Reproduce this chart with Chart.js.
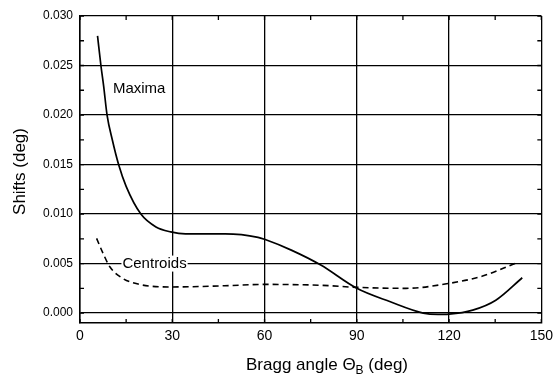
<!DOCTYPE html>
<html>
<head>
<meta charset="utf-8">
<script src="https://cdn.jsdelivr.net/npm/chart.js@4"></script>
<style>
  html, body { margin: 0; padding: 0; background: #fff; }
  #wrap { width: 558px; height: 381px; }
</style>
</head>
<body>
<div id="wrap"><canvas id="chart" width="558" height="381"></canvas></div>
<script>
// values
const maximaAngle = [5.7, 6.8, 7.7, 8.8, 10.5, 12.55, 15.0, 19.8, 24.7, 29.5, 34.3, 47.2, 57.9, 60, 68.7, 78.3, 90, 100.9, 111.6, 116.4, 120, 127.7, 135.2, 143.8];
const maximaShift = [0.0280, 0.0250, 0.0229, 0.0200, 0.0175, 0.0150, 0.0128, 0.0100, 0.0087, 0.0082, 0.0080, 0.0080, 0.00765, 0.00745, 0.00636, 0.00485, 0.0025, 0.00114, 0.0000, -0.00013, -0.0001, 0.0003, 0.0013, 0.00357];

const centroidAngle = [5.4, 7.5, 9.7, 13.9, 19.3, 25.7, 30, 47, 60, 79, 90, 106, 120, 130.9, 141.6];
const centroidShift = [0.00754, 0.00603, 0.00468, 0.0035, 0.0029, 0.00266, 0.00264, 0.00276, 0.0029, 0.0028, 0.0026, 0.0025, 0.0030, 0.00374, 0.00502];

const xTicks = [0, 30, 60, 90, 120, 150];
const yTicks = [0.000, 0.005, 0.010, 0.015, 0.020, 0.025, 0.030];

const FONT = '"Liberation Sans", Arial, sans-serif';

function toPoints(xs, ys) {
    return xs.map((x, i) => ({ x: x, y: ys[i] }));
}

// inside ticks (major + minor) on all four sides, labels and axis titles
const decorPlugin = {
    id: 'decor',
    afterDraw(chart) {
        const ctx = chart.ctx;
        const xs = chart.scales.x;
        const ys = chart.scales.y;
        const a = chart.chartArea;
        ctx.save();
        ctx.strokeStyle = '#000';
        ctx.lineWidth = 1.3;
        ctx.beginPath();
        for (let v = 0; v <= 150; v += 15) {
            const px = xs.getPixelForValue(v);
            ctx.moveTo(px, a.bottom);
            ctx.lineTo(px, a.bottom - 4);
            ctx.moveTo(px, a.top);
            ctx.lineTo(px, a.top + 4);
        }
        for (let v = 0; v <= 0.030001; v += 0.0025) {
            const py = ys.getPixelForValue(v);
            ctx.moveTo(a.left, py);
            ctx.lineTo(a.left + 4, py);
            ctx.moveTo(a.right, py);
            ctx.lineTo(a.right - 4, py);
        }
        ctx.stroke();

        // curve labels
        ctx.font = '15px ' + FONT;
        ctx.fillStyle = '#000';
        ctx.textBaseline = 'middle';
        ctx.textAlign = 'left';
        ctx.fillText('Maxima', xs.getPixelForValue(10.7), ys.getPixelForValue(0.0226));
        const cx = xs.getPixelForValue(13.8);
        const cy = ys.getPixelForValue(0.0050);
        const w = ctx.measureText('Centroids').width;
        ctx.fillStyle = '#fff';
        ctx.fillRect(cx - 1, cy - 8, w + 2, 16);
        ctx.fillStyle = '#000';
        ctx.fillText('Centroids', cx, cy);

        // y title
        ctx.font = '17px ' + FONT;
        ctx.save();
        ctx.translate(20, (a.top + a.bottom) / 2 + 2);
        ctx.rotate(-Math.PI / 2);
        ctx.textAlign = 'center';
        ctx.fillText('Shifts (deg)', 0, 0);
        ctx.restore();

        // x title with subscript
        const part1 = 'Bragg angle \u0398';
        const part2 = 'B';
        const part3 = ' (deg)';
        ctx.font = '17px ' + FONT;
        const w1 = ctx.measureText(part1).width;
        const w3 = ctx.measureText(part3).width;
        ctx.font = '12px ' + FONT;
        const w2 = ctx.measureText(part2).width;
        let tx = 327 - (w1 + w2 + w3) / 2;
        const ty = 365;
        ctx.textAlign = 'left';
        ctx.font = '17px ' + FONT;
        ctx.fillText(part1, tx, ty);
        tx += w1;
        ctx.font = '12px ' + FONT;
        ctx.fillText(part2, tx, ty + 6);
        tx += w2;
        ctx.font = '17px ' + FONT;
        ctx.fillText(part3, tx, ty);
        ctx.restore();
    }
};

const ctx = document.getElementById('chart').getContext('2d');
new Chart(ctx, {
    type: 'line',
    data: {
        datasets: [
            {
                label: 'Maxima',
                data: toPoints(maximaAngle, maximaShift),
                borderColor: '#000',
                borderWidth: 1.7,
                pointRadius: 0,
                fill: false,
                cubicInterpolationMode: 'monotone'
            },
            {
                label: 'Centroids',
                data: toPoints(centroidAngle, centroidShift),
                borderColor: '#000',
                borderWidth: 1.6,
                borderDash: [6, 4],
                pointRadius: 0,
                fill: false,
                cubicInterpolationMode: 'monotone'
            }
        ]
    },
    options: {
        responsive: false,
        animation: false,
        layout: { padding: { left: 0, right: 12, top: 16, bottom: 0 } },
        plugins: {
            legend: { display: false },
            tooltip: { enabled: false }
        },
        scales: {
            x: {
                type: 'linear',
                min: 0,
                max: 150,
                afterBuildTicks: (s) => { s.ticks = xTicks.map(v => ({ value: v })); },
                afterFit: (s) => { s.height = 58; },
                border: { color: '#000', width: 1.5 },
                grid: { color: '#000', lineWidth: 1.3, drawTicks: false },
                ticks: {
                    color: '#000',
                    font: { family: FONT, size: 14 },
                    padding: 5,
                    maxRotation: 0
                }
            },
            y: {
                type: 'linear',
                min: -0.001,
                max: 0.030,
                afterBuildTicks: (s) => { s.ticks = yTicks.map(v => ({ value: v })); },
                afterFit: (s) => { s.width = 80; },
                border: { color: '#000', width: 1.5 },
                grid: { color: '#000', lineWidth: 1.3, drawTicks: false },
                ticks: {
                    color: '#000',
                    font: { family: FONT, size: 12 },
                    padding: 7,
                    callback: (v) => v.toFixed(3)
                }
            }
        }
    },
    plugins: [decorPlugin]
});
</script>
</body>
</html>
